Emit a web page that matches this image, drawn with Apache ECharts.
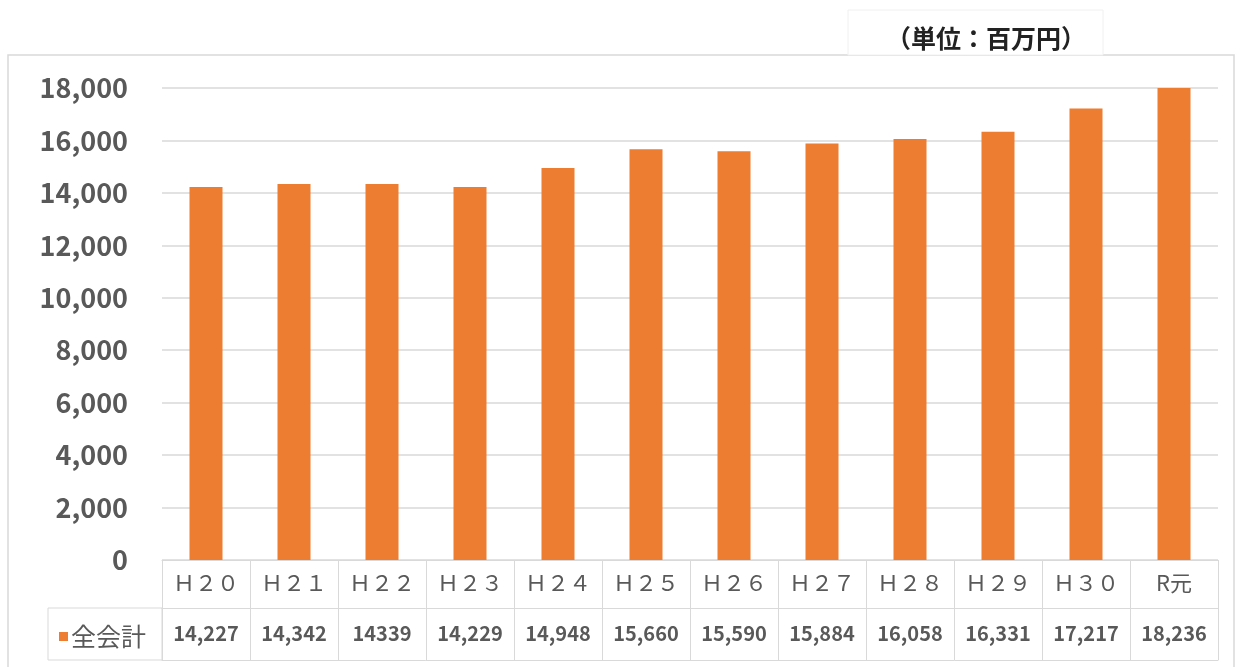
<!DOCTYPE html>
<html>
<head>
<meta charset="utf-8">
<script src="https://cdn.jsdelivr.net/npm/echarts@6.0.0/dist/echarts.min.js"></script>
<style>
  html, body { margin: 0; padding: 0; background: #fff; }
  #chart { width: 1242px; height: 667px; }
</style>
</head>
<body>
<div id="chart"></div>
<script>
// categories (fiscal years) and totals in million yen
const years = ['Ｈ２０', 'Ｈ２１', 'Ｈ２２', 'Ｈ２３', 'Ｈ２４', 'Ｈ２５', 'Ｈ２６', 'Ｈ２７', 'Ｈ２８', 'Ｈ２９', 'Ｈ３０', 'R元']
const totals = [14227, 14342, 14339, 14229, 14948, 15660, 15590, 15884, 16058, 16331, 17217, 18236]
// data table text as printed under the chart
const tableText = ['14,227', '14,342', '14339', '14,229', '14,948', '15,660', '15,590', '15,884', '16,058', '16,331', '17,217', '18,236']
const seriesName = '全会計'
const unitText = '（単位：百万円）'

const font = '"Noto Sans CJK JP", "Noto Sans", sans-serif'
const lineColor = '#d9d9d9'
const textColor = '#595959'

const chart = echarts.init(document.getElementById('chart'))
const option = {
  animation: false,
  textStyle: { fontFamily: font },
  grid: { left: 162, right: 24, top: 88, bottom: 107, containLabel: false },
  legend: {
    data: [seriesName],
    left: 54,
    top: 619,
    icon: 'rect',
    itemWidth: 9,
    itemHeight: 9,
    itemGap: 4,
    textStyle: { fontSize: 25, color: textColor, fontFamily: font, padding: [0, 0, 0, -2] }
  },
  xAxis: [
    {
      type: 'category',
      data: years,
      axisLine: { lineStyle: { color: lineColor } },
      axisTick: { show: true, length: 48, lineStyle: { color: lineColor } },
      axisLabel: { margin: 12, fontSize: 22, color: textColor, fontFamily: font }
    },
    {
      type: 'category',
      data: tableText,
      position: 'bottom',
      offset: 48,
      axisLine: { lineStyle: { color: lineColor } },
      axisTick: { show: true, length: 52, lineStyle: { color: lineColor } },
      axisLabel: { margin: 15, fontSize: 20, fontWeight: 'bold', color: textColor, fontFamily: font }
    },
    {
      type: 'category',
      data: years,
      position: 'bottom',
      offset: 100,
      axisLine: { lineStyle: { color: lineColor } },
      axisTick: { show: false },
      axisLabel: { show: false }
    }
  ],
  yAxis: {
    type: 'value',
    min: 0,
    max: 18000,
    interval: 2000,
    axisLine: { show: false },
    axisTick: { show: false },
    splitLine: { lineStyle: { color: lineColor, width: 1.5 } },
    axisLabel: {
      margin: 34,
      fontSize: 27,
      fontWeight: 'bold',
      color: textColor,
      fontFamily: font,
      formatter: v => v.toLocaleString('en-US')
    }
  },
  series: [
    {
      name: seriesName,
      type: 'bar',
      data: totals,
      xAxisIndex: 0,
      barWidth: 33,
      clip: true,
      itemStyle: { color: '#ED7D31' }
    }
  ],
  graphic: [
    {
      type: 'rect',
      shape: { x: 8, y: 55, width: 1226, height: 620 },
      style: { fill: 'none', stroke: '#d9d9d9', lineWidth: 1.5 },
      silent: true
    },
    {
      type: 'rect',
      shape: { x: 848, y: 10, width: 255, height: 45 },
      style: { fill: '#fff', stroke: '#f0f0f0', lineWidth: 1 },
      silent: true
    },
    {
      type: 'text',
      x: 986,
      y: 38,
      style: {
        text: unitText, fontSize: 25, fontWeight: 'bold', fill: '#222', fontFamily: font,
        align: 'center', verticalAlign: 'middle'
      },
      silent: true
    },
    {
      type: 'rect',
      shape: { x: 48, y: 608, width: 114, height: 52 },
      style: { fill: 'none', stroke: lineColor, lineWidth: 1 },
      silent: true
    }
  ]
}
chart.setOption(option)
</script>
</body>
</html>
